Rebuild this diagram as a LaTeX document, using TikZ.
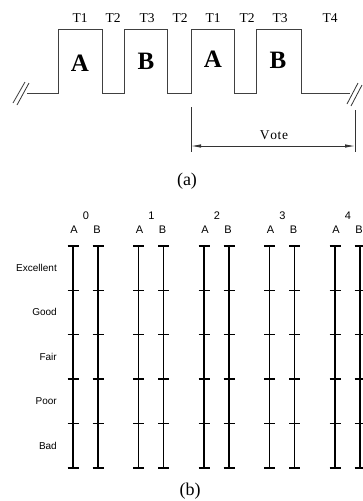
\documentclass[tikz,border=0pt]{standalone}
\usepackage{fontspec}
\setmainfont{Liberation Serif}
\setsansfont{Liberation Sans}
\usetikzlibrary{arrows.meta}
\begin{document}
\begin{tikzpicture}[x=1pt,y=-1pt,
  wave/.style={draw=black!75, line width=1pt},
  thin/.style={draw=black!80, line width=0.8pt},
  tlabel/.style={font=\fontsize{13.5}{14}\selectfont, inner sep=0pt},
  letter/.style={font=\fontsize{25}{26}\selectfont\bfseries, inner sep=0pt},
  caption/.style={font=\fontsize{18}{19}\selectfont, inner sep=0pt},
  scaleline/.style={line width=1.8pt},
  tickmark/.style={line width=1.6pt},
  rating/.style={font=\sffamily\fontsize{10}{11}\selectfont, anchor=east, inner sep=0pt},
  colhead/.style={font=\sffamily\fontsize{11}{12}\selectfont, inner sep=0pt},
  ]
\useasboundingbox (0,0) rectangle (362,501);

% ---------- (a) waveform ----------
\draw[wave] (27,93) -- (58,93) -- (58,29) -- (102,29) -- (102,93) -- (124,93)
  -- (124,29) -- (167,29) -- (167,93) -- (191,93) -- (191,29) -- (234,29)
  -- (234,93) -- (256,93) -- (256,29) -- (301,29) -- (301,93) -- (350,93);
% break marks
\draw[thin] (13,103) -- (25,82);
\draw[thin] (17,105) -- (29,83);
\draw[thin] (347,104) -- (358,83);
\draw[thin] (351,106) -- (362,85);

\node[tlabel] (t1a) at (80,18) {T1};
\node[tlabel] (t2a) at (113,18) {T2};
\node[tlabel] (t3a) at (147,18) {T3};
\node[tlabel] (t2b) at (180,18) {T2};
\node[tlabel] (t1b) at (213,18) {T1};
\node[tlabel] (t2c) at (247,18) {T2};
\node[tlabel] (t3b) at (280,18) {T3};
\node[tlabel] (t4)  at (330,18) {T4};

\node[letter] (la1) at (80,63) {A};
\node[letter] (lb1) at (146,61) {B};
\node[letter] (la2) at (213,59) {A};
\node[letter] (lb2) at (278,60) {B};

% vote dimension
\coordinate (vlt) at (191,107);
\coordinate (vlb) at (191,152);
\coordinate (vrt) at (355,110);
\coordinate (vrb) at (355,152);
\coordinate (vl) at (191,146);
\coordinate (vr) at (355,146);
\draw[thin] (vlt) -- (vlb);
\draw[thin] (vrt) -- (vrb);
\draw[thin, {Latex[length=10pt,width=3.5pt]}-{Latex[length=10pt,width=3.5pt]}] (vl) -- (vr);
\node[tlabel] (vote) at (274,135) {V\kern0.6pt o\kern0.6pt t\kern0.6pt e};

\node[caption] (capa) at (187,181) {(a)};

% ---------- (b) rating scales ----------
\foreach \xa [count=\c from 0] in {73,138.5,204,269.5,335}{
  \pgfmathsetmacro{\xb}{\xa+25}
  \pgfmathsetmacro{\xm}{\xa+13}
  \node[colhead] (num\c) at (\xm,216) {\c};
  \node[colhead] (ha\c) at (\xa+1,230) {A};
  \node[colhead] (hb\c) at (\xb-1,230) {B};
  \coordinate (at\c) at (\xa,246);
  \coordinate (ab\c) at (\xa,468);
  \coordinate (bt\c) at (\xb,246);
  \coordinate (bb\c) at (\xb,468);
  \draw[scaleline] (at\c) -- (ab\c);
  \draw[scaleline] (bt\c) -- (bb\c);
  \foreach \yy in {246,290.5,334.5,379,423.5,468}{
    \draw[tickmark] (\xa-5.5,\yy) -- (\xa+5.5,\yy);
    \draw[tickmark] (\xb-5.5,\yy) -- (\xb+5.5,\yy);
  }
}

\node[rating] (r1) at (57,268) {Excellent};
\node[rating] (r2) at (57,312) {Good};
\node[rating] (r3) at (57,356.5) {Fair};
\node[rating] (r4) at (57,401) {Poor};
\node[rating] (r5) at (57,445.5) {Bad};

\node[caption] (capb) at (190,491) {(b)};
\end{tikzpicture}
\end{document}
